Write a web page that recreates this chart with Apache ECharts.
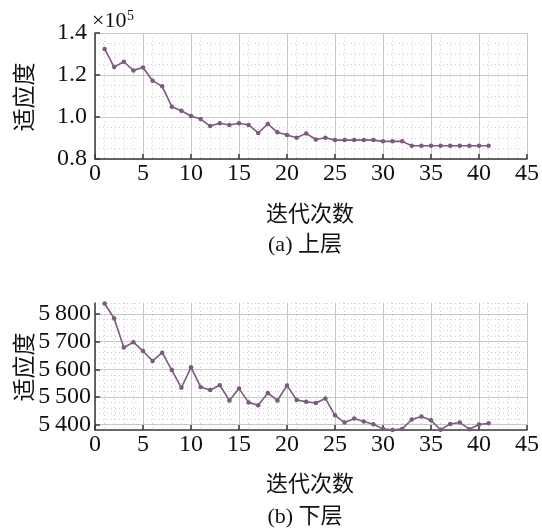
<!DOCTYPE html>
<html>
<head>
<meta charset="utf-8">
<script src="https://cdn.jsdelivr.net/npm/echarts@6/dist/echarts.min.js"></script>
<style>
  html, body { margin: 0; padding: 0; background: #fff; }
  #chart { width: 542px; height: 530px; }
</style>
</head>
<body>
<div id="chart"></div>
<script>
// Iteration index shared by both panels
const iterations = [1,2,3,4,5,6,7,8,9,10,11,12,13,14,15,16,17,18,19,20,
                    21,22,23,24,25,26,27,28,29,30,31,32,33,34,35,36,37,38,39,40,41];

// Upper level fitness (raw values, axis shown in units of 1e5)
const upperFitness = [132400,123800,126300,122200,123600,117300,114600,104900,103000,100500,
                      99000,95700,97000,96200,97000,96200,92400,96700,92700,91400,
                      90100,92200,89300,90100,89000,89000,89000,89000,89000,88400,
                      88400,88400,86300,86300,86300,86300,86300,86300,86300,86300,86300];

// Lower level fitness
const lowerFitness = [5838,5784,5679,5698,5666,5630,5660,5597,5533,5607,
                      5536,5525,5542,5487,5530,5480,5470,5514,5487,5541,
                      5489,5482,5478,5494,5433,5407,5422,5411,5401,5384,
                      5380,5384,5418,5429,5415,5381,5402,5407,5383,5400,5404];

const xTicks = [0,5,10,15,20,25,30,35,40,45];
const lowerYTicks = [5400,5500,5600,5700,5800];

const numFont = 'Liberation Serif, Times New Roman, serif';
const cjkFont = 'Noto Sans CJK SC, sans-serif';
const lineColor = '#7a5a7d';
const axisColor = '#3a3a3a';
const majorGrid = { show: true, lineStyle: { color: '#c6c6c6', width: 1, type: 'solid' } };
const minorGrid = { show: true, lineStyle: { color: '#cfcfcf', width: 1, type: [1, 3] } };

// width of the multiplier text, so the exponent sits right after it
const multFont = '22px ' + numFont;
const measureCtx = document.createElement('canvas').getContext('2d');
measureCtx.font = multFont;
const multX = 92;
const expX = multX + measureCtx.measureText('×10').width + 0.5;

function xAxisFor(gridIndex) {
  return {
    type: 'value', gridIndex: gridIndex,
    min: 0, max: 45, interval: 5,
    axisLine: { show: true, lineStyle: { color: axisColor, width: 1.5 } },
    axisTick: { show: true, inside: true, length: 5, lineStyle: { color: axisColor, width: 1.5 } },
    axisLabel: { show: true, margin: 3, color: '#111', fontFamily: numFont, fontSize: 24,
                 customValues: xTicks },
    splitLine: majorGrid,
    minorTick: { show: false, splitNumber: 5 },
    minorSplitLine: minorGrid
  };
}

const chart = echarts.init(document.getElementById('chart'), null, { renderer: 'canvas' });

chart.setOption({
  animation: false,
  backgroundColor: '#fff',
  grid: [
    { left: 95, top: 33, width: 436, height: 126 },
    { left: 95, top: 303, width: 436, height: 127 }
  ],
  xAxis: [xAxisFor(0), xAxisFor(1)],
  yAxis: [
    {
      type: 'value', gridIndex: 0,
      min: 80000, max: 140000, interval: 20000,
      axisLine: { show: true, lineStyle: { color: axisColor, width: 1.5 } },
      axisTick: { show: true, inside: true, length: 5, lineStyle: { color: axisColor, width: 1.5 } },
      axisLabel: { margin: 8, color: '#111', fontFamily: numFont, fontSize: 24,
                   formatter: v => (v / 1e5).toFixed(1) },
      splitLine: majorGrid,
      minorTick: { show: false, splitNumber: 4 },
      minorSplitLine: minorGrid
    },
    {
      type: 'value', gridIndex: 1,
      min: 5380, max: 5840,
      axisLine: { show: true, lineStyle: { color: axisColor, width: 1.5 } },
      axisTick: { show: true, inside: true, length: 5, customValues: lowerYTicks,
                  lineStyle: { color: axisColor, width: 1.5 } },
      axisLabel: { margin: 4, color: '#111', fontFamily: numFont, fontSize: 24,
                   customValues: lowerYTicks,
                   formatter: v => String(v).replace(/^(\d)(\d{3})$/, '$1\u2009$2') },
      splitLine: majorGrid
    },
    {
      // fine dotted grid of the lower panel, every 20 units
      type: 'value', gridIndex: 1, position: 'left',
      min: 5380, max: 5840, interval: 20,
      axisLine: { show: false }, axisTick: { show: false }, axisLabel: { show: false },
      splitLine: minorGrid
    }
  ],
  graphic: [
    // axis multiplier of the upper panel: ×10 with superscript 5
    { type: 'text', x: multX, y: 32, z: 100,
      style: { text: '×10', fill: '#111', font: multFont, align: 'left', verticalAlign: 'bottom' } },
    { type: 'text', x: expX, y: 9, z: 100,
      style: { text: '5', fill: '#111', font: '14px ' + numFont, align: 'left', verticalAlign: 'top' } },
    { type: 'text', x: 23, y: 97, rotation: Math.PI / 2, z: 100,
      style: { text: '适应度', fill: '#111', font: '23px ' + cjkFont, align: 'center', verticalAlign: 'middle' } },
    { type: 'text', x: 23, y: 367, rotation: Math.PI / 2, z: 100,
      style: { text: '适应度', fill: '#111', font: '23px ' + cjkFont, align: 'center', verticalAlign: 'middle' } },
    { type: 'text', x: 310, y: 213, z: 100,
      style: { text: '迭代次数', fill: '#111', font: '22px ' + cjkFont, align: 'center', verticalAlign: 'middle' } },
    { type: 'text', x: 305, y: 245, z: 100,
      style: { text: '(a) 上层', fill: '#111', font: '22px ' + numFont + ', ' + cjkFont, align: 'center', verticalAlign: 'middle' } },
    { type: 'text', x: 310, y: 483, z: 100,
      style: { text: '迭代次数', fill: '#111', font: '22px ' + cjkFont, align: 'center', verticalAlign: 'middle' } },
    { type: 'text', x: 305, y: 517, z: 100,
      style: { text: '(b) 下层', fill: '#111', font: '22px ' + numFont + ', ' + cjkFont, align: 'center', verticalAlign: 'middle' } }
  ],
  series: [
    {
      type: 'line', xAxisIndex: 0, yAxisIndex: 0, clip: false,
      data: iterations.map((it, i) => [it, upperFitness[i]]),
      symbol: 'circle', symbolSize: 4.5,
      lineStyle: { color: lineColor, width: 1.6 },
      itemStyle: { color: lineColor }
    },
    {
      type: 'line', xAxisIndex: 1, yAxisIndex: 1, clip: false,
      data: iterations.map((it, i) => [it, lowerFitness[i]]),
      symbol: 'circle', symbolSize: 4.5,
      lineStyle: { color: lineColor, width: 1.6 },
      itemStyle: { color: lineColor }
    }
  ]
});
</script>
</body>
</html>
